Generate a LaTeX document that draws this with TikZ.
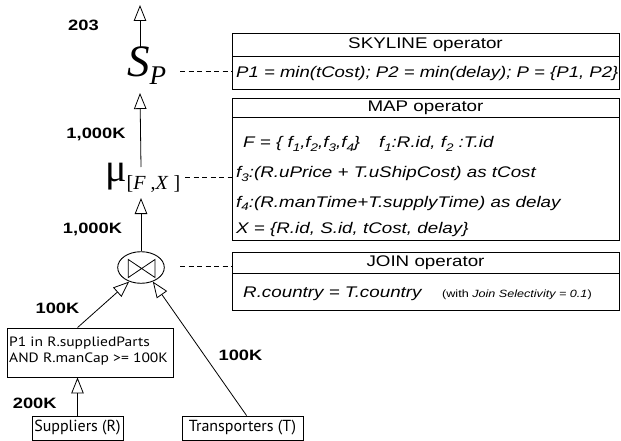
\documentclass[tikz,border=0pt]{standalone}
\usepackage{fontspec}
\usepackage{graphicx}
\setmainfont{Liberation Sans}
\newfontfamily\serifface{Liberation Serif}
\newfontfamily\relface{PT Sans}
\usetikzlibrary{arrows.meta,shapes.geometric,calc}
% horizontally widened text
\newcommand{\hs}[1]{\scalebox{1.22}[1]{#1}}
% small lowered index
\newcommand{\ix}[1]{\raisebox{-0.45ex}{\fontsize{11}{11}\selectfont #1}}

\begin{document}
\begin{tikzpicture}[x=1pt,y=-1pt,
  flow/.style={line width=0.8pt,-{Triangle[open,length=16pt,width=12.5pt]}},
  link/.style={line width=0.8pt,dash pattern=on 5pt off 3.5pt},
  opbox/.style={draw,line width=0.9pt,anchor=north west,inner sep=0pt,minimum width=387pt},
  head/.style={font=\fontsize{15.4}{16}\selectfont,inner sep=0pt},
  body/.style={font=\fontsize{15.4}{16}\selectfont\itshape,anchor=base west,inner sep=0pt},
  card/.style={font=\fontsize{15}{16}\selectfont\bfseries,anchor=base,inner sep=0pt},
  relbox/.style={draw,line width=0.9pt,inner sep=0pt,font=\relface\fontsize{16}{18}\selectfont}]

\useasboundingbox (0,0) rectangle (621,441);

% ---- operator tree ----
\node[inner sep=0pt,anchor=base west] (sp) at (127,77)
  {\serifface\itshape\fontsize{45}{45}\selectfont S\raisebox{-8pt}{\fontsize{27}{27}\selectfont P}};
\node[inner sep=0pt,anchor=base west] (mu) at (105,181)
  {\serifface\fontsize{40}{40}\selectfont μ\raisebox{-8pt}{\fontsize{20}{20}\selectfont[\textit{F} ,\textit{X} ]}};
\node[draw,line width=0.9pt,ellipse,minimum width=46.6pt,minimum height=31.6pt,inner sep=0pt] (join) at (141,267.5) {};
\draw[line width=0.8pt] ($(join.center)+(-12.7,-8)$) -- ($(join.center)+(-12.7,10)$)
  -- ($(join.center)+(14,-8)$) -- ($(join.center)+(14,10)$) -- cycle;

\node[relbox,minimum width=166pt,minimum height=49pt] (filter) at (90,352.5) {};
\node[inner sep=0pt,anchor=base west,font=\relface\fontsize{13.5}{15.5}\selectfont] (ftext) at (9,346)
  {\scalebox{1.15}[1]{\begin{tabular}[t]{@{}l@{}}P1 in R.suppliedParts\\[1.2pt]AND R.manCap >= 100K\end{tabular}}};
\node[relbox,minimum width=91pt,minimum height=24pt] (supp) at (77.5,428) {Suppliers (R)};
\node[relbox,minimum width=121pt,minimum height=24pt] (trans) at (242.5,428) {Transporters (T)};

\coordinate (out) at (140,5);
\coordinate (spIn) at (140,93);
\coordinate (muTop) at (141,167);
\coordinate (muIn) at (141,198);

\draw[flow] (sp.north -| out) -- (out);
\draw[flow] (muTop) -- (spIn);
\draw[flow] (join.north) -- (muIn);
\draw[flow] ($(filter.north west)+(71,0)$) -- (join.230);
\draw[flow] ($(trans.north west)+(65,0)$) -- (join.310);
\draw[flow] (supp.north) -- (supp.north |- filter.south);

% ---- cardinalities ----
\node[card] (c1) at (83.5,31) {\hs{203}};
\node[card] (c2) at (96,138.5) {\hs{1,000K}};
\node[card] (c3) at (92.5,233) {\hs{1,000K}};
\node[card] (c4) at (57.5,313) {\hs{100K}};
\node[card] (c5) at (240.5,360) {\hs{100K}};
\node[card] (c6) at (34.7,408) {\hs{200K}};

% ---- operator descriptions ----
\node[opbox,minimum height=56pt] (sky) at (232,33) {};
\draw[line width=0.9pt] (sky.west |- 0,56) -- (sky.east |- 0,56);
\node[head] (skyh) at (425.5,45) {\hs{SKYLINE operator}};
\node[body] (skyb) at (236,77.5) {\scalebox{1.205}[1]{P1 = min(tCost); P2 = min(delay); P = \{P1, P2\}}};

\node[opbox,minimum height=142pt] (map) at (232,98) {};
\draw[line width=0.9pt] (map.west |- 0,117) -- (map.east |- 0,117);
\node[head] (maph) at (425.5,108) {\hs{MAP operator}};
\node[body] (m1) at (243,147.5) {\hs{F = \{ f\ix{1},f\ix{2},f\ix{3},f\ix{4}\}\quad f\ix{1}:R.id, f\ix{2} :T.id}};
\node[body] (m2) at (236,178) {\hs{f\ix{3}:(R.uPrice + T.uShipCost) as tCost}};
\node[body] (m3) at (236,207) {\hs{f\ix{4}:(R.manTime+T.supplyTime) as delay}};
\node[body] (m4) at (236,233.5) {\hs{X = \{R.id, S.id, tCost, delay\}}};

\node[opbox,minimum height=58pt] (jbox) at (232,252) {};
\draw[line width=0.9pt] (jbox.west |- 0,273) -- (jbox.east |- 0,273);
\node[head] (jh) at (425.5,263) {\hs{JOIN operator}};
\node[body] (jb) at (243,297.5) {\hs{R.country = T.country}};
\node[inner sep=0pt,anchor=base west,font=\fontsize{10.5}{12}\selectfont] (js) at (442,297)
  {\scalebox{1.2}[1]{(with \textit{Join Selectivity = 0.1})}};

% ---- dashed links ----
\draw[link] (180,71) -- (sky.west |- 0,71);
\draw[link] (185,177) -- (map.west |- 0,177);
\draw[link] (180,266) -- (jbox.west |- 0,266);
\end{tikzpicture}
\end{document}
